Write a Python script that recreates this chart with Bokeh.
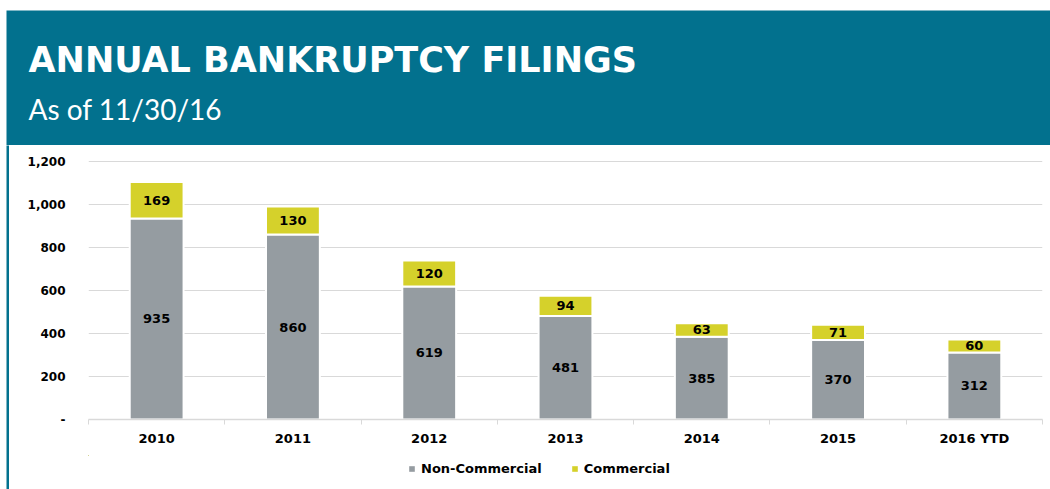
from bokeh.plotting import figure
from bokeh.layouts import column, row, Spacer
from bokeh.models import (ColumnDataSource, FixedTicker, Legend, LegendItem, Label, Range1d, LabelSet)
from bokeh.embed import file_html
from bokeh.resources import INLINE
from bokeh.core.properties import value

# ---- data ----
years = ["2010", "2011", "2012", "2013", "2014", "2015", "2016 YTD"]
non_commercial = [935, 860, 619, 481, 385, 370, 312]
commercial = [169, 130, 120, 94, 63, 71, 60]
series_names = ["Non-Commercial", "Commercial"]
y_ticks = [0, 200, 400, 600, 800, 1000, 1200]
y_tick_labels = ["-", "200", "400", "600", "800", "1,000", "1,200"]

TEAL = "#02718E"
GRAY = "#959CA1"
YELLOW = "#D5D12B"
FONT = "DejaVu Sans"

x_pos = list(range(1, len(years) + 1))
totals = [a + b for a, b in zip(non_commercial, commercial)]
src = ColumnDataSource(dict(
    x=x_pos,
    nc=non_commercial,
    c=commercial,
    total=totals,
    nc_mid=[v / 2 for v in non_commercial],
    c_mid=[a + b / 2 for a, b in zip(non_commercial, commercial)],
    nc_txt=[str(v) for v in non_commercial],
    c_txt=[str(v) for v in commercial],
))

# ---- header ----
header = figure(width=1044, height=135, x_range=Range1d(0, 1), y_range=Range1d(0, 1),
                output_backend="svg", toolbar_location=None, min_border=0,
                background_fill_color=TEAL, border_fill_color=TEAL, outline_line_color=None)
header.axis.visible = False
header.grid.visible = False
header.add_layout(Label(x=22, y=86, x_units="screen", y_units="screen",
                        text="ANNUAL BANKRUPTCY FILINGS", text_font="DejaVu Sans",
                        text_font_style="bold", text_font_size="35px", text_color="white",
                        text_baseline="alphabetic"))
header.add_layout(Label(x=22, y=37, x_units="screen", y_units="screen",
                        text="As of 11/30/16", text_font="Lato",
                        text_font_style="normal", text_font_size="28px", text_color="white",
                        text_baseline="alphabetic"))

# ---- left strip ----
strip = figure(width=3, height=344, x_range=Range1d(0, 1), y_range=Range1d(0, 1),
               output_backend="svg", toolbar_location=None, min_border=0,
               background_fill_color=TEAL, border_fill_color=TEAL, outline_line_color=None)
strip.axis.visible = False
strip.grid.visible = False

# ---- chart ----
p = figure(width=1041, height=310, x_range=Range1d(0.5, len(years) + 0.5), y_range=Range1d(0, 1251),
           output_backend="svg", toolbar_location=None,
           min_border_left=79, min_border_right=8, min_border_top=5, min_border_bottom=36,
           background_fill_color="white", border_fill_color="white", outline_line_color=None)

r_nc = p.vbar(x="x", bottom=0, top="nc", width=0.395, source=src,
              fill_color=GRAY, line_color="white", line_width=2)
r_c = p.vbar(x="x", bottom="nc", top="total", width=0.395, source=src,
             fill_color=YELLOW, line_color="white", line_width=2)

for ycol, tcol in (("nc_mid", "nc_txt"), ("c_mid", "c_txt")):
    p.add_layout(LabelSet(x="x", y=ycol, text=tcol, source=src, text_align="center",
                          text_baseline="middle", text_font=value(FONT), text_font_style="bold",
                          text_font_size="13px", text_color="black"))

# y axis
p.yaxis.ticker = FixedTicker(ticks=y_ticks)
p.yaxis.major_label_overrides = {t: l for t, l in zip(y_ticks, y_tick_labels)}
p.yaxis.axis_line_color = None
p.yaxis.major_tick_line_color = None
p.yaxis.minor_tick_line_color = None
p.yaxis.major_label_standoff = 17
p.yaxis.major_label_text_font = FONT
p.yaxis.major_label_text_font_style = "bold"
p.yaxis.major_label_text_font_size = "12px"
p.yaxis.major_label_text_color = "black"

p.ygrid.ticker = FixedTicker(ticks=y_ticks[1:])
p.ygrid.grid_line_color = "#D9D9D9"
p.ygrid.grid_line_width = 1
p.xgrid.visible = False

# x axis
p.xaxis.ticker = FixedTicker(ticks=x_pos, minor_ticks=[i + 0.5 for i in range(0, len(years) + 1)])
p.xaxis.major_label_overrides = {x: y for x, y in zip(x_pos, years)}
p.xaxis.axis_line_color = "#D9D9D9"
p.xaxis.axis_line_width = 1.5
p.xaxis.major_tick_line_color = None
p.xaxis.minor_tick_line_color = "#D9D9D9"
p.xaxis.minor_tick_out = 5
p.xaxis.minor_tick_in = 0
p.xaxis.major_label_standoff = 5
p.xaxis.major_label_text_font = FONT
p.xaxis.major_label_text_font_style = "bold"
p.xaxis.major_label_text_font_size = "13px"
p.xaxis.major_label_text_color = "black"

# ---- legend strip (same series, drawn outside its visible range so only the key shows) ----
legfig = figure(width=1041, height=34, x_range=Range1d(100, 101), y_range=Range1d(-10, -9),
                output_backend="svg", toolbar_location=None, min_border=0,
                background_fill_color="white", border_fill_color="white", outline_line_color=None)
legfig.axis.visible = False
legfig.grid.visible = False
lr_nc = legfig.vbar(x="x", bottom="nc", top="total", width=0.1, source=src, fill_color=GRAY, line_color=None)
lr_c = legfig.vbar(x="x", bottom="nc", top="total", width=0.1, source=src, fill_color=YELLOW, line_color=None)
legend = Legend(items=[LegendItem(label=series_names[0], renderers=[lr_nc]),
                       LegendItem(label=series_names[1], renderers=[lr_c])],
                orientation="horizontal", location=(320, 13),
                label_text_font=FONT, label_text_font_style="bold", label_text_font_size="13px",
                label_text_color="black", glyph_width=7, glyph_height=7, label_standoff=6,
                spacing=29, border_line_color=None, background_fill_alpha=0,
                margin=0, padding=4)
legfig.add_layout(legend, "center")

layout = column(Spacer(height=10),
                row(Spacer(width=6), column(header, row(strip, column(p, legfig)))))
open("out.html", "w").write(file_html(layout, INLINE))
